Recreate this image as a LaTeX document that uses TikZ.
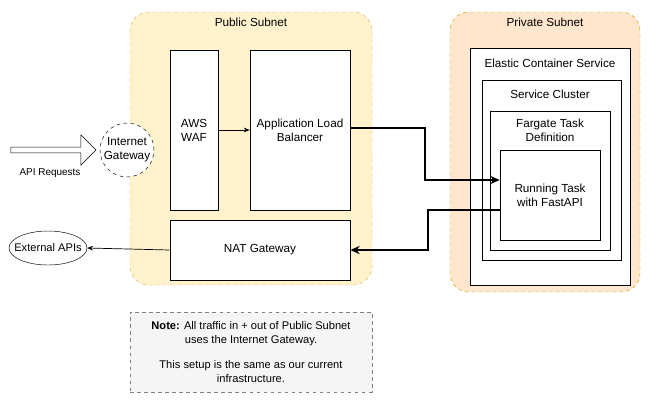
\documentclass[tikz,border=0pt]{standalone}
\usepackage{fontspec}
\setmainfont{Liberation Sans}
\usetikzlibrary{arrows.meta,shapes.arrows,shapes.geometric}
\definecolor{pubfill}{HTML}{FFF2CC}\definecolor{publine}{HTML}{D6B656}
\definecolor{privfill}{HTML}{FFE6CC}\definecolor{privline}{HTML}{D79B00}
\begin{document}
\begin{tikzpicture}[x=0.03cm,y=-0.03cm,font=\fontsize{10pt}{12pt}\selectfont,
 box/.style={draw,fill=white,line width=0.6pt},
 lbl/.style={align=center,inner sep=0},
 thick arr/.style={line width=1.6pt,-{Stealth[length=8pt,width=7pt]}},
 thin arr/.style={line width=0.6pt,-{Stealth[length=5pt,width=4pt]}}]
\useasboundingbox (0,0) rectangle (667,407);
\node[draw=publine,fill=pubfill,dashed,rounded corners=16pt,minimum width=242*0.03cm,minimum height=273*0.03cm] (pub) at (251,148.5) {};
\node[lbl] (pubt) at (251,22) {Public Subnet};
\node[draw=privline,fill=privfill,dashed,rounded corners=16pt,minimum width=190*0.03cm,minimum height=280*0.03cm] (priv) at (545,152) {};
\node[lbl] (privt) at (545,22) {Private Subnet};
\node[box,minimum width=48*0.03cm,minimum height=160*0.03cm] (waf) at (194,130) {};
\node[lbl] at (waf) {AWS\\WAF};
\node[box,minimum width=100*0.03cm,minimum height=160*0.03cm] (alb) at (300,130) {};
\node[lbl] at (300,130) {Application Load\\Balancer};
\node[box,minimum width=180*0.03cm,minimum height=60*0.03cm] (nat) at (260,250) {NAT Gateway};
\node[draw,dashed,circle,fill=white,minimum size=54*0.03cm,inner sep=0,align=center] (igw) at (127,150) {Internet\\Gateway};
\node[draw,single arrow,fill=white,minimum height=85*0.03cm,minimum width=30*0.03cm,single arrow head extend=5pt,inner sep=1pt] (req) at (52,150) {};
\node[lbl,font=\fontsize{8.5pt}{10pt}\selectfont] (reqt) at (50,173) {API Requests};
\node[draw,ellipse,fill=white,minimum width=78*0.03cm,minimum height=34*0.03cm,inner sep=0] (ext) at (48,248) {};
\node[lbl,font=\fontsize{9.5pt}{11pt}\selectfont] at (ext) {External APIs};
\node[box,minimum width=160*0.03cm,minimum height=237*0.03cm] (ecs) at (550,166.5) {};
\node[lbl] at (550,63) {Elastic Container Service};
\node[box,minimum width=139*0.03cm,minimum height=180*0.03cm] (cl) at (551.5,170) {};
\node[lbl] at (550,94) {Service Cluster};
\node[box,minimum width=120*0.03cm,minimum height=139*0.03cm] (fg) at (550,180.5) {};
\node[lbl] at (550,130) {Fargate Task\\Definition};
\node[box,minimum width=100*0.03cm,minimum height=90*0.03cm] (rt) at (550,195) {};
\node[lbl] at (550,195) {Running Task\\with FastAPI};
\node[draw=gray,dashed,fill=black!4,minimum width=242*0.03cm,minimum height=80*0.03cm] (note) at (251,352) {};
\node[lbl,font=\fontsize{9.5pt}{11.5pt}\selectfont] at (251,352) {\textbf{Note:} All traffic in + out of Public Subnet\\uses the Internet Gateway.\\[10pt]This setup is the same as our current\\infrastructure.};
\coordinate (a1) at (425,128); \coordinate (a2) at (425,180);
\coordinate (b1) at (428,210); \coordinate (b2) at (428,250);
\draw[thin arr] (waf.east |- 0,130) -- (alb.west |- 0,130);
\draw[thick arr] (alb.east |- a1) -- (a1) -- (a2) -- (rt.west |- a2);
\draw[thick arr] (rt.west |- b1) -- (b1) -- (b2) -- (nat.east |- b2);
\draw[thin arr] (nat.west) -- (ext.east);
\end{tikzpicture}
\end{document}
